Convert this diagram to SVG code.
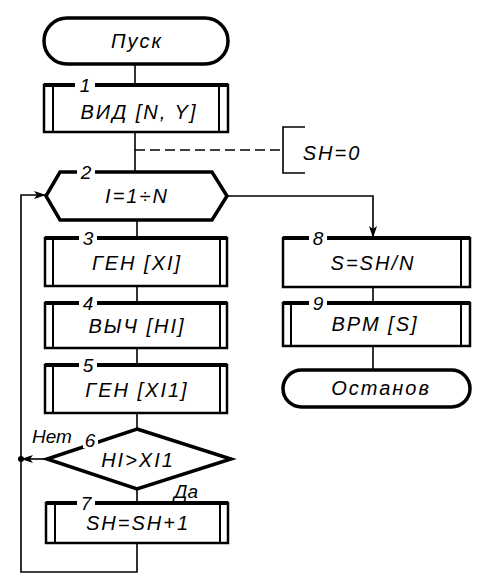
<svg xmlns="http://www.w3.org/2000/svg" width="482" height="582" viewBox="0 0 482 582">
<defs>
<style>
.blk{fill:#fff;stroke:#000;stroke-width:2.5}
.top{stroke:#000;stroke-width:4;fill:none}
.in{stroke:#000;stroke-width:2;fill:none}
.shape{fill:#fff;stroke:#000;stroke-width:3.5;stroke-linejoin:miter}
.ln{stroke:#000;stroke-width:1.6;fill:none}
.t{font-family:"Liberation Sans","DejaVu Sans",sans-serif;font-style:italic;font-size:20px;letter-spacing:2px;text-anchor:middle;fill:#000}
.n{font-family:"Liberation Sans","DejaVu Sans",sans-serif;font-style:italic;font-size:19px;text-anchor:middle;fill:#000}
.lb{font-family:"Liberation Sans","DejaVu Sans",sans-serif;font-style:italic;font-size:19px;fill:#000}
.gap{fill:#fff}
</style>
<marker id="ar" viewBox="0 0 12 8" refX="12" refY="4" markerWidth="12" markerHeight="8" markerUnits="userSpaceOnUse" orient="auto">
<path d="M0,0 L12,4 L0,8 L3,4 Z" fill="#000"/>
</marker>
</defs>
<rect width="482" height="582" fill="#fff"/>

<g id="connectors">
<line class="ln" x1="135" y1="64" x2="135" y2="85"/>
<line class="ln" x1="135" y1="132" x2="135" y2="172"/>
<line class="ln" x1="135" y1="150" x2="283" y2="150" stroke-dasharray="10,5"/>
<line class="ln" x1="137" y1="220" x2="137" y2="238"/>
<line class="ln" x1="137" y1="286" x2="137" y2="303"/>
<line class="ln" x1="137" y1="348" x2="137" y2="365"/>
<line class="ln" x1="137" y1="413" x2="137" y2="429"/>
<line class="ln" x1="137" y1="489" x2="137" y2="503"/>
<polyline class="ln" points="227,196 373,196 373,238" marker-end="url(#ar)"/>
<polyline class="ln" points="137,543 137,572 21,572 21,195 46,195" marker-end="url(#ar)"/>
<line class="ln" x1="47" y1="459" x2="21" y2="459" marker-end="url(#ar)"/>
<circle cx="21" cy="459" r="3" fill="#000"/>
<line class="ln" x1="373" y1="287" x2="373" y2="303"/>
<line class="ln" x1="373" y1="346" x2="373" y2="370"/>
</g>

<g id="start">
<rect class="shape" x="44" y="18" width="184" height="46" rx="23" stroke-width="3"/>
<text class="t" x="137" y="48">Пуск</text>
</g>

<g id="n1">
<rect class="blk" x="44" y="85" width="184" height="47"/>
<line class="top" x1="44" y1="85" x2="228" y2="85"/>
<line class="in" x1="53" y1="85" x2="53" y2="132"/>
<line class="in" x1="219" y1="85" x2="219" y2="132"/>
<rect class="gap" x="75" y="79" width="20" height="12"/>
<text class="n" x="85" y="92">1</text>
<text class="t" x="139" y="119">ВИД [N, Y]</text>
</g>

<g id="comment">
<polyline class="ln" points="305,127 283,127 283,173 305,173" stroke-width="2"/>
<text class="t" x="332" y="160">SH=0</text>
</g>

<g id="n2">
<polygon class="shape" points="46,196 60,172 212,172 227,196 212,220 60,220"/>
<rect class="gap" x="77" y="166" width="18" height="12"/>
<text class="n" x="86" y="179">2</text>
<text class="t" x="137" y="203">I=1÷N</text>
</g>

<g id="n3">
<rect class="blk" x="45" y="238" width="182" height="48"/>
<line class="top" x1="45" y1="238" x2="227" y2="238"/>
<line class="in" x1="53" y1="238" x2="53" y2="286"/>
<line class="in" x1="220" y1="238" x2="220" y2="286"/>
<rect class="gap" x="79" y="232" width="18" height="12"/>
<text class="n" x="88" y="245">3</text>
<text class="t" x="137" y="270">ГЕН [XI]</text>
</g>

<g id="n4">
<rect class="blk" x="45" y="303" width="182" height="45"/>
<line class="top" x1="45" y1="303" x2="227" y2="303"/>
<line class="in" x1="53" y1="303" x2="53" y2="348"/>
<line class="in" x1="220" y1="303" x2="220" y2="348"/>
<rect class="gap" x="79" y="297" width="18" height="12"/>
<text class="n" x="88" y="310">4</text>
<text class="t" x="137" y="333">ВЫЧ [HI]</text>
</g>

<g id="n5">
<rect class="blk" x="45" y="365" width="182" height="48"/>
<line class="top" x1="45" y1="365" x2="227" y2="365"/>
<line class="in" x1="53" y1="365" x2="53" y2="413"/>
<line class="in" x1="220" y1="365" x2="220" y2="413"/>
<rect class="gap" x="79" y="359" width="18" height="12"/>
<text class="n" x="88" y="372">5</text>
<text class="t" x="137" y="397">ГЕН [XI1]</text>
</g>

<g id="n6">
<polygon class="shape" points="137,429 231,459 137,489 47,459"/>
<rect class="gap" x="83" y="433" width="15" height="15"/>
<text class="n" x="90" y="447">6</text>
<text class="t" x="138" y="467">HI&gt;XI1</text>
<text class="lb" x="32" y="443">Нет</text>
<text class="lb" x="174" y="498">Да</text>
</g>

<g id="n7">
<rect class="blk" x="46" y="503" width="182" height="40"/>
<line class="top" x1="46" y1="503" x2="228" y2="503"/>
<line class="in" x1="55" y1="503" x2="55" y2="543"/>
<line class="in" x1="220" y1="503" x2="220" y2="543"/>
<rect class="gap" x="77" y="497" width="18" height="12"/>
<text class="n" x="86" y="510">7</text>
<text class="t" x="138" y="530">SH=SH+1</text>
</g>

<g id="n8">
<rect class="blk" x="283" y="238" width="187" height="49"/>
<line class="top" x1="283" y1="238" x2="470" y2="238"/>
<line class="in" x1="461" y1="238" x2="461" y2="287"/>
<rect class="gap" x="309" y="232" width="18" height="12"/>
<text class="n" x="318" y="245">8</text>
<text class="t" x="373" y="270">S=SH/N</text>
</g>

<g id="n9">
<rect class="blk" x="283" y="303" width="187" height="43"/>
<line class="top" x1="283" y1="303" x2="470" y2="303"/>
<line class="in" x1="291" y1="303" x2="291" y2="346"/>
<line class="in" x1="461" y1="303" x2="461" y2="346"/>
<rect class="gap" x="309" y="297" width="18" height="12"/>
<text class="n" x="318" y="310">9</text>
<text class="t" x="375" y="331">ВРМ [S]</text>
</g>

<g id="stop">
<rect class="shape" x="283" y="370" width="187" height="37" rx="18.5" stroke-width="3"/>
<text class="t" x="381" y="395">Останов</text>
</g>
</svg>
